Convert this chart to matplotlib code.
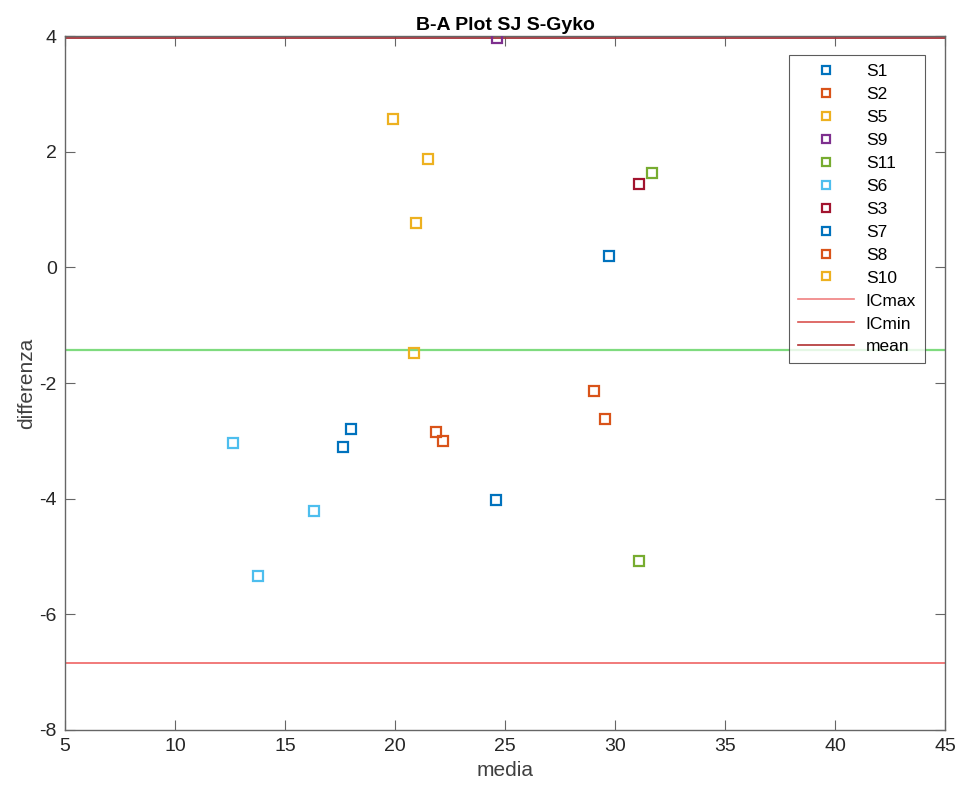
import matplotlib
matplotlib.use("Agg")
import matplotlib.pyplot as plt
from matplotlib.lines import Line2D

plt.rcParams['font.family'] = ['Liberation Sans', 'DejaVu Sans']
plt.rcParams['axes.unicode_minus'] = False

# soggetti, colori come ciclo MATLAB
soggetti = ['S1', 'S2', 'S5', 'S9', 'S11', 'S6', 'S3', 'S7', 'S8', 'S10']
colori = ['#0072BD', '#D95319', '#EDB120', '#7E2F8E', '#77AC30',
          '#4DBEEE', '#A2142F', '#0072BD', '#D95319', '#EDB120']

# media e differenza per soggetto
media = [[29.74, 24.59], [29.06, 29.56], [19.90, 21.50], [24.62],
         [31.68, 31.08], [12.65, 16.33, 13.76], [31.08],
         [17.62, 18.00], [21.86, 22.20], [20.94, 20.86]]
differenza = [[0.20, -4.02], [-2.14, -2.63], [2.56, 1.88], [3.96],
              [1.63, -5.07], [-3.04, -4.21, -5.34], [1.45],
              [-3.11, -2.79], [-2.84, -3.00], [0.77, -1.48]]

IC_max = 3.97
IC_min = -6.85
mean_diff = -1.43

fig = plt.figure(figsize=(9.59, 7.92), dpi=100)
ax = fig.add_axes([0.0678, 0.0783, 0.9176, 0.8762])

for i in range(len(soggetti)):
    ax.plot(media[i], differenza[i], 's', color=colori[i], mfc='none',
            ms=7.5, mew=1.6, label=soggetti[i], zorder=3)

ax.axhline(IC_max, color='#A83238', lw=1.3, zorder=2)
ax.axhline(IC_min, color='#F07070', lw=1.3, zorder=2)
ax.axhline(mean_diff, color='#7FDB7F', lw=1.6, zorder=2)

ax.set_xlim(5, 45)
ax.set_ylim(-8, 4)
ax.set_xticks(range(5, 46, 5))
ax.set_yticks(range(-8, 5, 2))
ax.tick_params(direction='in', length=7, width=0.8, top=True, right=True,
               labelsize=14, colors='#666666', labelcolor='#262626', pad=6)
for s in ax.spines.values():
    s.set_color('#666666')
    s.set_linewidth(1.0)

ax.set_xlabel('media', fontsize=15, color='#404040')
ax.set_ylabel('differenza', fontsize=15, color='#404040', labelpad=2)
ax.set_title('B-A Plot SJ S-Gyko', fontsize=14, fontweight='bold', pad=4)

# legenda come nell'originale
handles, labels = ax.get_legend_handles_labels()
handles += [Line2D([], [], color='#F08080', lw=1.2),
            Line2D([], [], color='#D9534F', lw=1.2),
            Line2D([], [], color='#B03030', lw=1.2)]
labels += ['ICmax', 'ICmin', 'mean']
leg = ax.legend(handles, labels, loc='upper right',
                bbox_to_anchor=(0.977, 0.9726), borderaxespad=0,
                fontsize=12.5, frameon=True, fancybox=False,
                edgecolor='#333333', handlelength=3.2, labelspacing=0.45,
                borderpad=0.5, handletextpad=0.7)
leg.get_frame().set_linewidth(0.8)
for h in leg.legend_handles[:10]:
    h.set_markersize(6)

fig.savefig('out.png', dpi=100)
